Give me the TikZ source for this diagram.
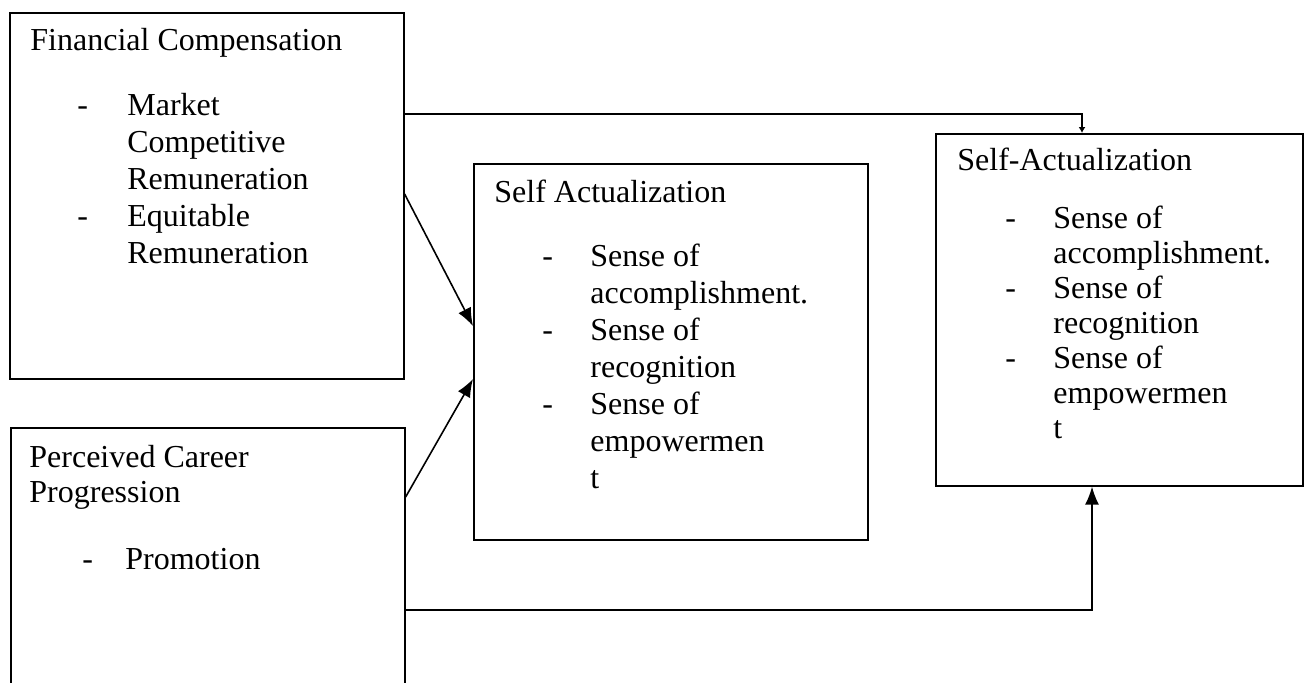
\documentclass[tikz,border=0pt]{standalone}
\usepackage{fontspec}
\setmainfont{Liberation Serif}
\usetikzlibrary{arrows.meta}
\begin{document}
\begin{tikzpicture}[x=0.5pt,y=-0.5pt,
  box/.style={draw, line width=0.8pt, anchor=north west, inner sep=0pt},
  txt/.style={anchor=base west, inner sep=0pt, font=\fontsize{16pt}{18.5pt}\selectfont},
  arr/.style={line width=0.8pt, -{Latex[length=9pt,width=7pt]}}]
\useasboundingbox (0,0) rectangle (1304,682);
\node[box, minimum width=197pt, minimum height=183pt] (fc) at (9,12){};
\node[box, minimum width=197pt, minimum height=136.5pt] (pcp) at (10,427){};
\node[box, minimum width=197pt, minimum height=188pt] (sa1) at (473,163){};
\node[box, minimum width=183.5pt, minimum height=176pt] (sa2) at (935,133){};
\node[txt] (t0) at (30,50){Financial Compensation};
\node[txt] (t1) at (77,115){-};
\node[txt] (t2) at (127,115){Market};
\node[txt] (t3) at (127,152){Competitive};
\node[txt] (t4) at (127,189){Remuneration};
\node[txt] (t5) at (77,226){-};
\node[txt] (t6) at (127,226){Equitable};
\node[txt] (t7) at (127,263){Remuneration};
\node[txt] (t8) at (29,467){Perceived Career};
\node[txt] (t9) at (29,502){Progression};
\node[txt] (t10) at (82,569){-};
\node[txt] (t11) at (125,569){Promotion};
\node[txt] (t12) at (494,202){Self Actualization};
\node[txt] (t13) at (542,266){-};
\node[txt] (t14) at (590,266){Sense of};
\node[txt] (t15) at (590,303){accomplishment.};
\node[txt] (t16) at (542,340){-};
\node[txt] (t17) at (590,340){Sense of};
\node[txt] (t18) at (590,377){recognition};
\node[txt] (t19) at (542,414){-};
\node[txt] (t20) at (590,414){Sense of};
\node[txt] (t21) at (590,451){empowermen};
\node[txt] (t22) at (590,488){t};
\node[txt] (t23) at (957,170){Self-Actualization};
\node[txt] (t24) at (1005,228){-};
\node[txt] (t25) at (1053,228){Sense of};
\node[txt] (t26) at (1053,263){accomplishment.};
\node[txt] (t27) at (1005,298){-};
\node[txt] (t28) at (1053,298){Sense of};
\node[txt] (t29) at (1053,333){recognition};
\node[txt] (t30) at (1005,368){-};
\node[txt] (t31) at (1053,368){Sense of};
\node[txt] (t32) at (1053,403){empowermen};
\node[txt] (t33) at (1053,438){t};
\draw[line width=0.8pt, -{Latex[length=3pt,width=3.5pt]}] (fc.east |- 0,114) -| (sa2.north -| 1082,0);
\draw[arr] (fc.east |- 0,194) -- (sa1.west |- 0,326);
\draw[arr] (pcp.east |- 0,497) -- (sa1.west |- 0,379);
\draw[arr] (pcp.east |- 0,610) -| (sa2.south -| 1092,0);
\end{tikzpicture}
\end{document}
